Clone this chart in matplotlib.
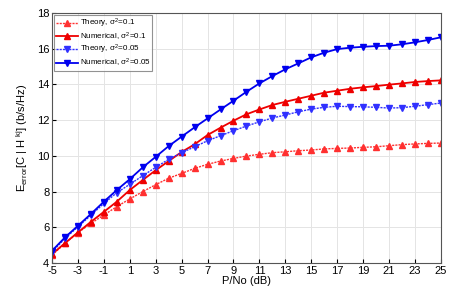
import matplotlib
matplotlib.use("Agg")
import matplotlib.pyplot as plt

# =========================
# DATA
# =========================
snr_db = list(range(-5, 26))

theory_01 = [4.45, 5.1, 5.7, 6.22, 6.69, 7.16, 7.59, 8.0, 8.39, 8.75, 9.02, 9.3, 9.53,
             9.71, 9.86, 9.99, 10.09, 10.18, 10.23, 10.29, 10.33, 10.39, 10.42, 10.44,
             10.48, 10.51, 10.57, 10.63, 10.67, 10.7, 10.72]
numerical_01 = [4.5, 5.12, 5.72, 6.31, 6.87, 7.44, 8.09, 8.65, 9.2, 9.71, 10.22, 10.65,
                11.17, 11.58, 11.97, 12.33, 12.6, 12.85, 13.03, 13.2, 13.37, 13.54, 13.65,
                13.76, 13.84, 13.91, 13.99, 14.06, 14.14, 14.19, 14.23]
theory_005 = [4.62, 5.38, 6.03, 6.68, 7.34, 7.94, 8.41, 8.89, 9.36, 9.81, 10.18, 10.51,
              10.85, 11.13, 11.41, 11.67, 11.91, 12.12, 12.29, 12.47, 12.62, 12.72, 12.78,
              12.76, 12.75, 12.72, 12.68, 12.7, 12.78, 12.87, 12.96]
numerical_005 = [4.69, 5.44, 6.09, 6.75, 7.44, 8.09, 8.7, 9.36, 9.95, 10.55, 11.08, 11.6,
                 12.1, 12.6, 13.09, 13.59, 14.06, 14.47, 14.85, 15.18, 15.52, 15.78, 15.98,
                 16.06, 16.11, 16.15, 16.17, 16.25, 16.36, 16.49, 16.64]

xticks = list(range(-5, 26, 2))
yticks = list(range(4, 19, 2))

# =========================
# PLOT
# =========================
plt.rcParams['font.family'] = ['Liberation Sans', 'DejaVu Sans']
plt.rcParams['mathtext.fontset'] = 'custom'
plt.rcParams['mathtext.rm'] = 'Liberation Sans'
plt.rcParams['mathtext.it'] = 'Liberation Sans'
plt.rcParams['axes.unicode_minus'] = False

fig = plt.figure(figsize=(4.65, 2.9), dpi=100)
ax = fig.add_axes([0.112, 0.093, 0.836, 0.862])

ax.plot(snr_db, theory_01, color="#ff3030", linestyle=(0, (1.5, 0.8)), linewidth=1.0,
        marker="^", markersize=3.8, label=r"Theory, $\sigma^2$=0.1")
ax.plot(snr_db, numerical_01, color="#ee0000", linestyle="-", linewidth=1.3,
        marker="^", markersize=3.8, label=r"Numerical, $\sigma^2$=0.1")
ax.plot(snr_db, theory_005, color="#3030ff", linestyle=(0, (1.5, 0.8)), linewidth=1.0,
        marker="v", markersize=3.8, label=r"Theory, $\sigma^2$=0.05")
ax.plot(snr_db, numerical_005, color="#0000ee", linestyle="-", linewidth=1.3,
        marker="v", markersize=3.8, label=r"Numerical, $\sigma^2$=0.05")

ax.set_xlim(-5, 25)
ax.set_ylim(4, 18)
ax.set_xticks(xticks)
ax.set_yticks(yticks)
ax.tick_params(direction="in", labelsize=8, length=3, pad=2)
ax.grid(True, color="#e4e4e4", linewidth=0.7)
for s in ax.spines.values():
    s.set_color("#555555")
    s.set_linewidth(0.8)

ax.set_xlabel("P/No (dB)", fontsize=8, labelpad=0)
ax.set_ylabel(r"E$_{error}$[C | H $^{kj}$] (b/s/Hz)", fontsize=8, labelpad=5)

leg = ax.legend(loc="upper left", fontsize=5.8, frameon=True, fancybox=False,
                handlelength=2.8, borderpad=0.2, labelspacing=0.05,
                borderaxespad=0.25, handletextpad=0.2)
leg.get_frame().set_edgecolor("#777777")
leg.get_frame().set_linewidth(0.8)

fig.savefig("out.png", dpi=100)
